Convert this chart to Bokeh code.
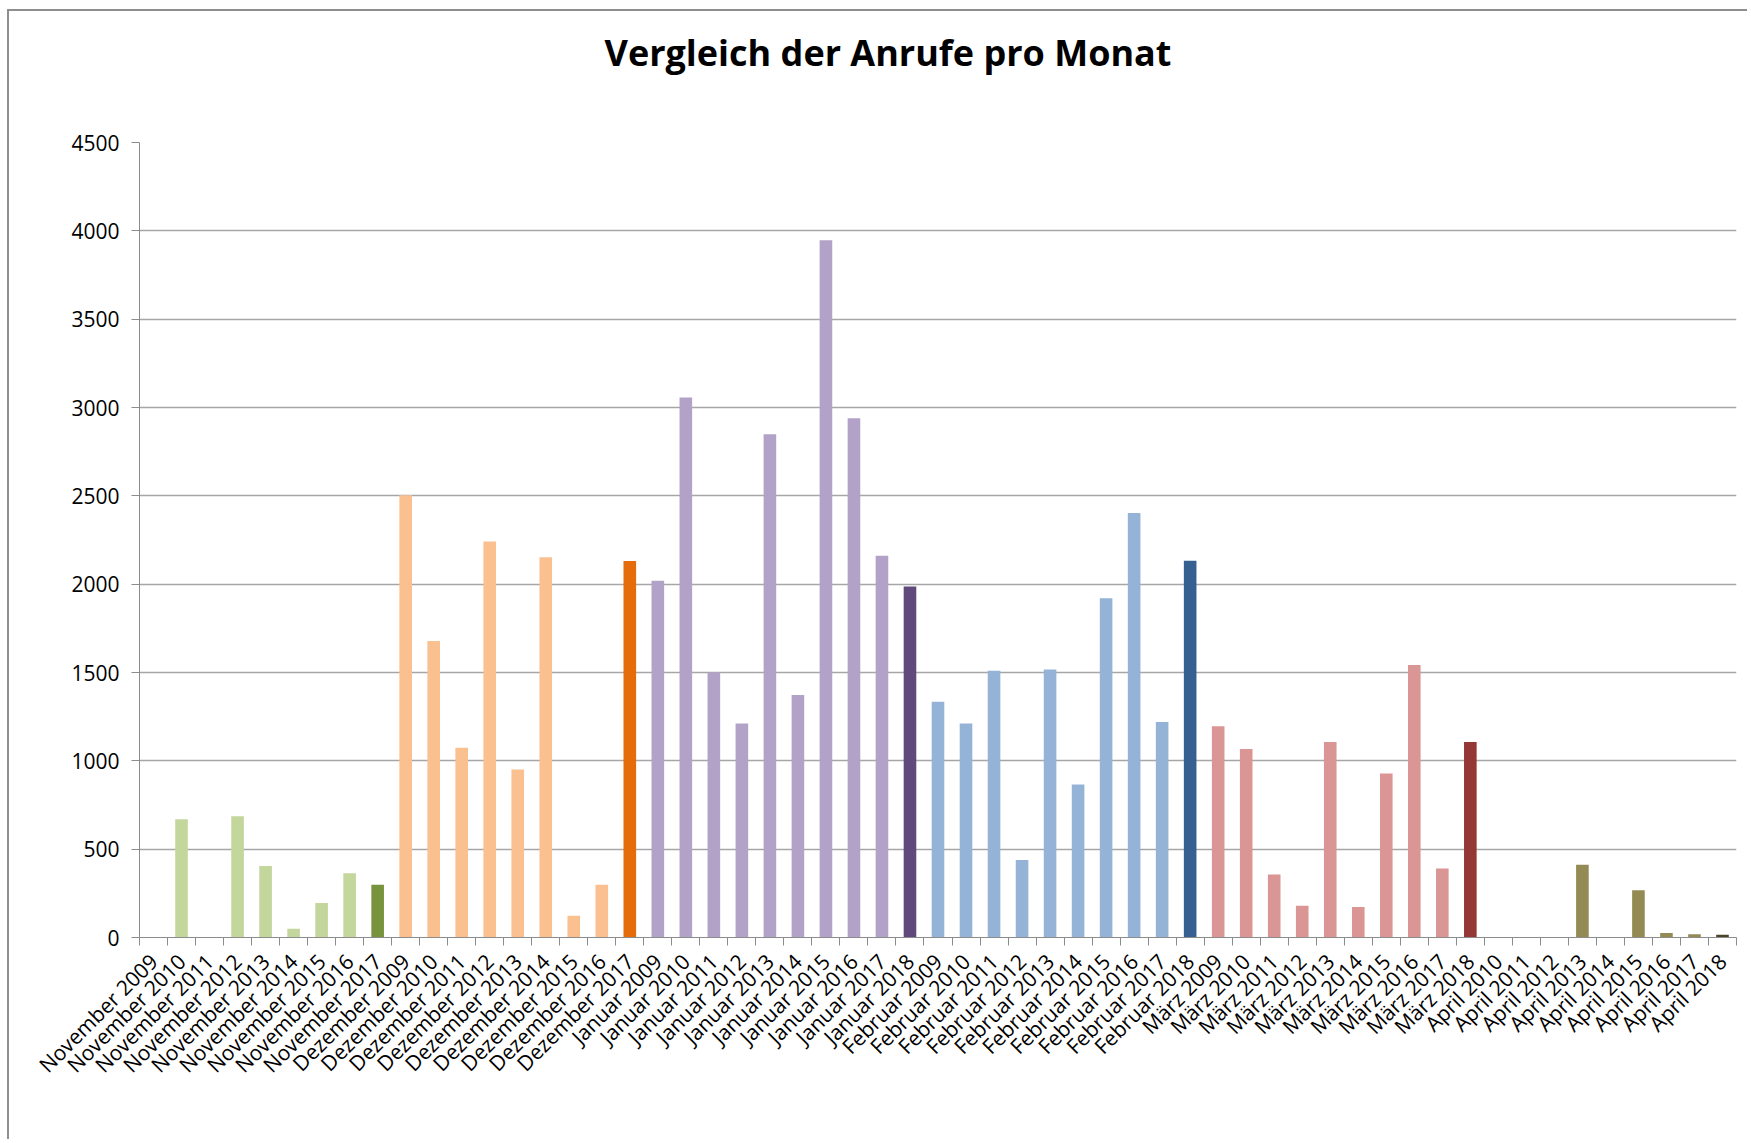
import math
from bokeh.plotting import figure
from bokeh.models import (ColumnDataSource, Range1d, LinearAxis, FixedTicker, Title,
                          CustomLabelingPolicy)
from bokeh.embed import file_html
from bokeh.resources import INLINE

# ---------------- data ----------------
title_text = "Vergleich der Anrufe pro Monat"
months = ["November", "Dezember", "Januar", "Februar", "März", "April"]

nov_years = [2009, 2010, 2011, 2012, 2013, 2014, 2015, 2016, 2017]
nov_calls = [0, 669, 0, 686, 405, 49, 195, 363, 299]

dez_years = [2009, 2010, 2011, 2012, 2013, 2014, 2015, 2016, 2017]
dez_calls = [2503, 1679, 1074, 2242, 951, 2153, 123, 299, 2131]

jan_years = [2009, 2010, 2011, 2012, 2013, 2014, 2015, 2016, 2017, 2018]
jan_calls = [2019, 3057, 1502, 1211, 2848, 1373, 3947, 2939, 2161, 1987]

feb_years = [2009, 2010, 2011, 2012, 2013, 2014, 2015, 2016, 2017, 2018]
feb_calls = [1334, 1211, 1510, 439, 1517, 866, 1920, 2403, 1220, 2133]

mar_years = [2009, 2010, 2011, 2012, 2013, 2014, 2015, 2016, 2017, 2018]
mar_calls = [1196, 1067, 357, 180, 1107, 172, 929, 1542, 390, 1107]

apr_years = [2010, 2011, 2012, 2013, 2014, 2015, 2016, 2017, 2018]
apr_calls = [0, 0, 0, 412, 0, 267, 25, 19, 15]

y_ticks = [0, 500, 1000, 1500, 2000, 2500, 3000, 3500, 4000, 4500]

# ---------------- style ----------------
light_colors = ["#C3D69B", "#FAC090", "#B3A2C7", "#95B3D7", "#D99694", "#948A54"]
dark_colors = ["#77933C", "#E46C0A", "#604A7B", "#376092", "#953735", "#4A452A"]

groups = [(nov_years, nov_calls), (dez_years, dez_calls), (jan_years, jan_calls),
          (feb_years, feb_calls), (mar_years, mar_calls), (apr_years, apr_calls)]

factors, values, colors = [], [], []
for gi, (m, (yrs, vals)) in enumerate(zip(months, groups)):
    for i, (yr, v) in enumerate(zip(yrs, vals)):
        factors.append(f"{m} {yr}")
        values.append(v)
        colors.append(dark_colors[gi] if i == len(yrs) - 1 else light_colors[gi])

n = len(factors)
centers = [i + 0.5 for i in range(n)]
src = ColumnDataSource(dict(x=centers, top=values, color=colors, name=factors))

FONT = "Open Sans"
AXIS_GRAY = "#8c8c8c"

p = figure(x_range=Range1d(0, n), y_range=Range1d(0, 4500),
           width=1740, height=1130, output_backend="svg", toolbar_location=None,
           x_axis_location=None, y_axis_location="left",
           min_border_left=130, min_border_right=13,
           min_border_top=131, min_border_bottom=204)

p.vbar(x="x", top="top", width=0.45, fill_color="color", line_color=None, source=src)

no_labels = CustomLabelingPolicy(code="""
for (let i = 0; i < indices.size; i++) { indices.unset(i) }
return indices
""")

# invisible (white) spacer between frame and title
spacer = LinearAxis(ticker=FixedTicker(ticks=[0]), axis_line_color=None,
                    major_tick_line_color="white", minor_tick_line_color=None,
                    major_tick_out=57, major_tick_in=0, major_label_policy=no_labels,
                    major_label_text_font_size="1px", major_label_standoff=0)
p.add_layout(spacer, "above")

# title
p.title = Title(text=title_text, align="left", offset=465, standoff=10,
                text_font=FONT, text_font_size="36px", text_font_style="bold",
                text_color="#000000")

# y axis
yax = p.yaxis[0]
yax.ticker = FixedTicker(ticks=y_ticks)
yax.axis_line_color = AXIS_GRAY
yax.major_tick_line_color = AXIS_GRAY
yax.major_tick_out = 8
yax.major_tick_in = 0
yax.minor_tick_line_color = None
yax.major_label_text_font = FONT
yax.major_label_text_font_size = "21px"
yax.major_label_text_color = "#000000"
yax.major_label_standoff = 12

# boundary tick axis (ticks between categories, no labels)
tick_axis = LinearAxis(ticker=FixedTicker(ticks=list(range(n + 1))),
                       axis_line_color=AXIS_GRAY, major_tick_line_color=AXIS_GRAY,
                       major_tick_out=8, major_tick_in=0, minor_tick_line_color=None,
                       major_label_policy=no_labels,
                       major_label_text_font_size="1px", major_label_standoff=0)
p.add_layout(tick_axis, "below")

# category label axis
label_axis = LinearAxis(ticker=FixedTicker(ticks=centers),
                        major_label_overrides={c: f for c, f in zip(centers, factors)},
                        axis_line_color=None, major_tick_line_color=None,
                        major_tick_out=0, major_tick_in=0, minor_tick_line_color=None,
                        major_label_orientation=math.pi / 4,
                        major_label_text_font=FONT,
                        major_label_text_font_size="21px",
                        major_label_text_color="#000000",
                        major_label_standoff=8)
p.add_layout(label_axis, "below")

# grid
p.xgrid.grid_line_color = None
p.ygrid.grid_line_color = "#a6a6a6"
p.ygrid.grid_line_width = 1.5
p.ygrid.ticker = FixedTicker(ticks=y_ticks)
p.outline_line_color = None
p.background_fill_color = "white"
p.border_fill_color = "white"

p.styles = {"margin-left": "7px", "margin-top": "9px",
            "border-top": "2px solid #8e8e8e", "border-left": "2px solid #8e8e8e"}

open("out.html", "w").write(file_html(p, INLINE))
